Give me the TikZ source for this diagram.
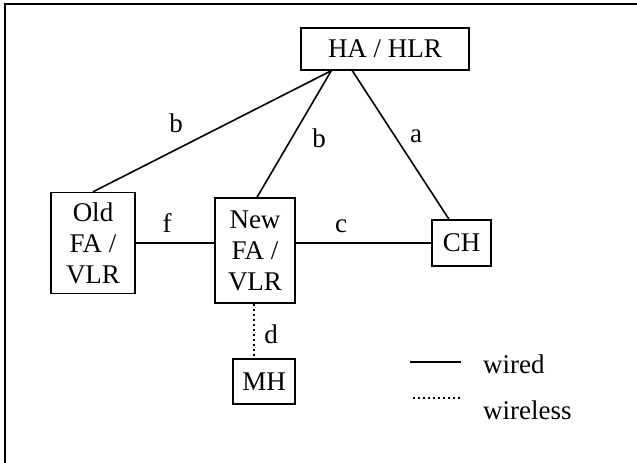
\documentclass[tikz,border=0pt]{standalone}
\usepackage{fontspec}
\setmainfont{Liberation Serif}
\usetikzlibrary{calc}
\begin{document}
\begin{tikzpicture}[x=1pt,y=-1pt,
  every node/.style={font=\fontsize{27}{31}\selectfont},
  unit/.style={draw,line width=1.4pt,inner sep=0pt,align=center},
  link/.style={line width=1.6pt},
  radio/.style={line width=1.6pt,dash pattern=on 2pt off 3pt},
  tag/.style={inner sep=0pt}]
  \useasboundingbox (0,0) rectangle (637,463);
  % frame edges
  \draw[line width=2pt] (5,463) -- (5,4) -- (637,4);

  % network elements
  \node[unit,minimum width=168pt,minimum height=42pt] (ha) at (385,49) {HA / HLR};
  \node[unit,minimum width=84pt,minimum height=101pt] (old) at (93,243) {Old\\FA /\\VLR};
  \node[unit,minimum width=80pt,minimum height=105pt] (new) at (255,250.5) {New\\FA /\\VLR};
  \node[unit,minimum width=59pt,minimum height=46pt] (ch) at (461.5,243) {CH};
  \node[unit,minimum width=62pt,minimum height=45pt] (mh) at (264,381.5) {MH};

  % attachment points on the home agent
  \coordinate (hab) at ($(ha.south west)+(31,0)$);
  \coordinate (haa) at ($(ha.south west)+(52,0)$);

  % wired links
  \draw[link] (hab) -- (old.north);
  \draw[link] (hab) -- ($(new.north)+(2,0)$);
  \draw[link] (haa) -- ($(ch.north)+(-12.5,0)$);
  \draw[link] (old.east) -- (old.east -| new.west);
  \draw[link] (ch.west -| new.east) -- (ch.west);
  % wireless link
  \draw[radio] ($(new.south)+(-1,0)$) -- ($(new.south |- mh.north)+(-1,0)$);

  % link labels
  \node[tag] (lb1) at (176,123) {b};
  \node[tag] (lb2) at (319,138) {b};
  \node[tag] (la) at (416,136) {a};
  \node[tag] (lf) at (167,223) {f};
  \node[tag] (lc) at (341,226) {c};
  \node[tag] (ld) at (271,334) {d};

  % legend
  \coordinate (w1) at (410,362);
  \coordinate (w2) at (461,362);
  \coordinate (r1) at (413,398);
  \coordinate (r2) at (461,398);
  \draw[link] (w1) -- (w2);
  \draw[radio] (r1) -- (r2);
  \node[tag,anchor=west] (lw) at (483,364) {wired};
  \node[tag,anchor=west] (lr) at (483,410) {wireless};
\end{tikzpicture}
\end{document}
